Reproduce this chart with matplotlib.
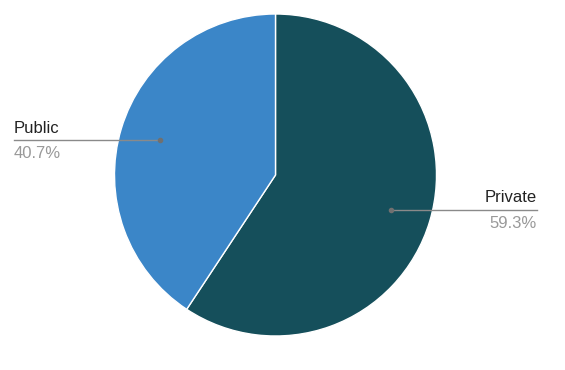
import numpy as np
import matplotlib.pyplot as plt

plt.rcParams['font.family'] = ['Liberation Sans', 'DejaVu Sans']

labels = ["Private", "Public"]
shares = [59.3, 40.7]
colors = ["#154f5b", "#3b86c8"]

W, H = 565, 370


def main():
    fig = plt.figure(figsize=(W / 100, H / 100), dpi=100)
    ax = fig.add_axes([0, 0, 1, 1])

    cx, cy, r = 275.5, H - 175, 161
    wedges, _ = ax.pie(shares, colors=colors, startangle=90, counterclock=False,
                       center=(cx, cy), radius=r, frame=True,
                       wedgeprops=dict(edgecolor="white", linewidth=1.0))
    ax.set_xlim(0, W)
    ax.set_ylim(0, H)
    ax.set_aspect("equal")
    ax.axis("off")

    # callout lines: dot inside wedge, horizontal line out to the label
    for w, lab, val in zip(wedges, labels, shares):
        mid = np.deg2rad((w.theta1 + w.theta2) / 2)
        dx, dy = cx + 0.75 * r * np.cos(mid), cy + 0.75 * r * np.sin(mid)
        if np.cos(mid) >= 0:
            ex, ha = 537, "right"
        else:
            ex, ha = 14, "left"
        ax.plot([dx, ex], [dy, dy], color="#8a8a8a", lw=1.0, zorder=3)
        ax.plot(dx, dy, "o", color="#707070", ms=3, zorder=4)
        ax.text(ex, dy + 7.5, lab, ha=ha, va="baseline", fontsize=12, color="#222222")
        ax.text(ex, dy - 18, f"{val}%", ha=ha, va="baseline", fontsize=12, color="#999999")

    fig.savefig("out.png", dpi=100)


if __name__ == "__main__":
    main()
